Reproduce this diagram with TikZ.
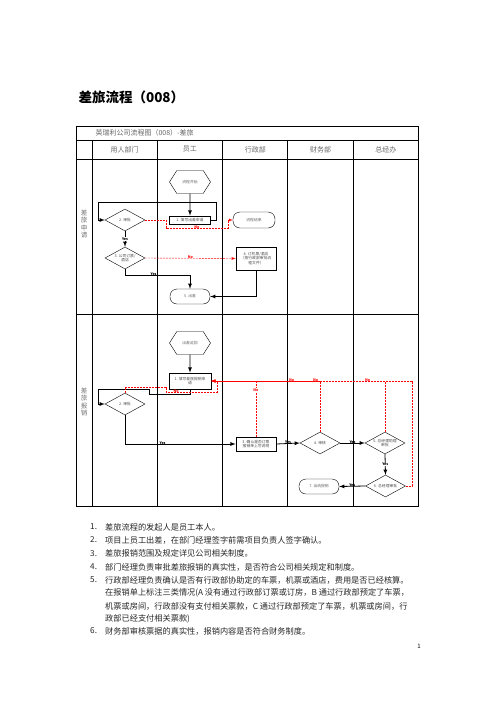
\documentclass[tikz,border=0pt]{standalone}
\usepackage{fontspec}
\setmainfont{Noto Sans CJK SC}
\usetikzlibrary{shapes.geometric,shapes.symbols}

\begin{document}
\begin{tikzpicture}[x=1pt,y=-1pt,>=latex,
    hexa/.style={draw,thin,signal,signal to=east and west,signal pointer angle=115,minimum width=41pt,minimum height=23pt,inner sep=0pt,font=\fontsize{3.8}{4.4}\selectfont,text=black!60},
    box/.style={draw,line width=0.8pt,minimum width=41pt,minimum height=8pt,inner sep=0.5pt,align=center,font=\fontsize{3.8}{4.6}\selectfont,text=black!70},
    dia/.style={draw,thin,diamond,aspect=1.8,minimum width=40pt,minimum height=22pt,inner sep=0pt,align=center,font=\fontsize{3.8}{4.6}\selectfont,text=black!70},
    term/.style={draw,thin,rounded corners=7pt,minimum width=40pt,minimum height=15pt,inner sep=0pt,font=\fontsize{3.8}{4.4}\selectfont,text=black!60},
    lab/.style={font=\fontsize{3.6}{4}\selectfont\bfseries,inner sep=0.3pt},
    go/.style={line width=0.8pt,->},
    ret/.style={red,dash pattern=on 2pt off 1pt,line width=0.4pt,->},
    grid/.style={line width=1pt},
    head/.style={font=\fontsize{7}{8}\selectfont,text=black!60},
    side/.style={font=\fontsize{6.5}{7.5}\selectfont,text=black!55,align=center},
    note/.style={anchor=west,font=\fontsize{8.2}{10}\selectfont,text=black!85,inner sep=0pt}]
    \useasboundingbox (0,0) rectangle (496,702);

    % table
    \draw[grid] (76,126) rectangle (418,506);
    \draw[grid] (76,140) -- (418,140);
    \draw[grid] (76,159) -- (418,159);
    \draw[grid] (76,314) -- (418,314);
    \foreach \x in {92,157,222,287,353}
        \draw[grid] (\x,140) -- (\x,506);

    \node[anchor=west,font=\fontsize{13.5}{15}\selectfont\bfseries] (T) at (75,97) {差旅流程（008）};
    \node[head,anchor=west] (H) at (92,133) {英瑞利公司流程图（008）-差旅};
    \foreach \t [count=\i] in {用人部门,员工,行政部,财务部,总经办}
        \node[head] (H\i) at ({92+65.3*(\i-0.5)},149.5) {\t};
    \node[side] (L1) at (84,224) {差\\旅\\申\\请};
    \node[side] (L2) at (84,402) {差\\旅\\报\\销};

    % application
    \node[hexa] (S1) at (190,182) {流程开始};
    \node[box] (A1) at (190,220) {1. 填写出差申请};
    \node[dia] (B1) at (125,220) {2. 审批};
    \node[term,minimum width=42pt,minimum height=16pt] (E1) at (254,220) {流程结束};
    \node[dia] (C1) at (125,258) {3. 公司订票/\\酒店};
    \node[box,minimum width=40pt,minimum height=23pt] (D1) at (256,258.5) {4. 订机票/酒店\\（按行政部审批流\\程文件）};
    \node[term] (F1) at (190,296.5) {5. 出差};

    \coordinate (a1) at (216,202);
    \coordinate (a2) at (98,202);
    \coordinate (b1) at (166,228);
    \coordinate (b2) at (228,228);
    \coordinate (c1) at (190,275);

    \draw[go] (S1) -- (A1);
    \draw[go] (A1.east) -| (a1) -- (a2) |- (B1.west);
    \draw[ret] (B1.east) -| (b1) -- node[lab,above=-0.8pt] {No} (b2) |- (E1.west);
    \draw[go] (B1.south) -- node[lab,fill=white] {Yes} (C1.north);
    \draw[ret] (C1.east) -- node[lab,above=-0.8pt] {No} (D1.west);
    \draw[go] (C1.south) |- node[lab,above=-0.8pt,pos=0.72] {Yes} (c1) -- (F1.north);
    \draw[go] (D1.south) |- (F1.east);

    % reimbursement
    \node[hexa] (S2) at (190,343) {出差返回};
    \node[box,minimum width=42pt,minimum height=16pt] (A2) at (190,381) {1. 填写差旅报销申\\请};
    \node[dia] (B2) at (125,404) {2. 审批};
    \node[box,minimum width=40pt,minimum height=14pt] (C2) at (256,444) {3. 确认是否订票\\报销单上写说明};
    \node[dia] (D2) at (320,443) {4. 审核};
    \node[dia] (E2) at (385,443) {5. 总经理助理\\审批};
    \node[dia] (F2) at (385.5,486) {6. 总经理审批};
    \node[term] (G2) at (319,486.5) {7. 出纳报销};

    \coordinate (a3) at (149,394);
    \coordinate (a4) at (98,389);
    \coordinate (p1) at (166,387);
    \coordinate (p2) at (217,392);
    \coordinate (r1) at (412,381);

    \draw[go] (S2) -- (A2);
    \draw[go] (A2.south) |- (a3) |- (a4) |- (B2.west);
    \draw[ret] (B2.north) |- (p1) |- node[lab,above=-0.8pt,pos=0.6] {No} (p2) |- (A2.east);
    \draw[go] (B2.south) |- node[lab,above=-0.8pt,pos=0.67] {Yes} (C2.west);
    \draw[go] (C2.east) -- node[lab,above=-0.8pt] {Yes} (D2.west);
    \draw[go] (D2.east) -- node[lab,above=-0.8pt] {Yes} (E2.west);
    \draw[go] (E2.south) -- node[lab,fill=white] {Yes} (F2.north);
    \draw[go] (F2.west) -- node[lab,above=-0.8pt] {Yes} (G2.east);
    \draw[ret] (C2.north) |- node[lab,fill=white,pos=0.42] {No} (A2.east);
    \draw[ret] (D2.north) |- node[lab,above=-0.8pt,pos=0.52] {No} (A2.east);
    \draw[ret] (E2.north) |- node[lab,above=-0.8pt,pos=0.55] {No} (A2.east);
    \draw[ret] (F2.east) -| (r1) -- node[lab,above=-0.8pt,pos=0.6] {No} (A2.east);

    % notes
    \node[note] (N1) at (90,527) {1.};
    \node[note] (M1) at (105,527) {差旅流程的发起人是员工本人。};
    \node[note] (N2) at (90,540) {2.};
    \node[note] (M2) at (105,540) {项目上员工出差，在部门经理签字前需项目负责人签字确认。};
    \node[note] (N3) at (90,553.5) {3.};
    \node[note] (M3) at (105,553.5) {差旅报销范围及规定详见公司相关制度。};
    \node[note] (N4) at (90,567) {4.};
    \node[note] (M4) at (105,567) {部门经理负责审批差旅报销的真实性，是否符合公司相关规定和制度。};
    \node[note] (N5) at (90,580) {5.};
    \node[note] (M5) at (105,580) {行政部经理负责确认是否有行政部协助定的车票，机票或酒店，费用是否已经核算。};
    \node[note] (M6) at (105,593) {在报销单上标注三类情况(A 没有通过行政部订票或订房，B 通过行政部预定了车票，};
    \node[note] (M7) at (105,606) {机票或房间，行政部没有支付相关票款，C 通过行政部预定了车票，机票或房间，行};
    \node[note] (M8) at (105,618.5) {政部已经支付相关票款)};
    \node[note] (N6) at (90,631) {6.};
    \node[note] (M9) at (105,631) {财务部审核票据的真实性，报销内容是否符合财务制度。};
    \node[font=\fontsize{6}{7}\selectfont] (P) at (419,646) {1};
\end{tikzpicture}
\end{document}
